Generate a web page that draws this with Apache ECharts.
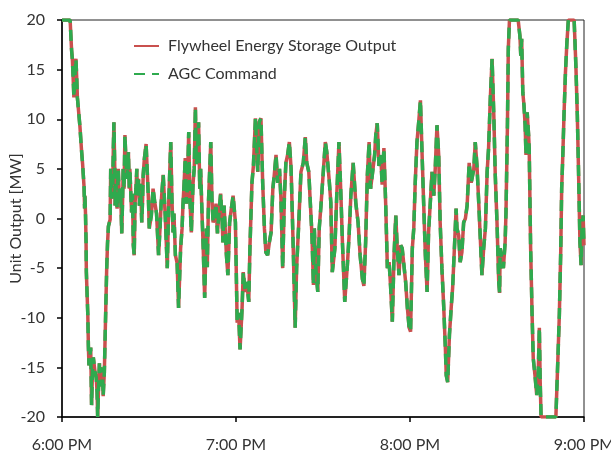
<!DOCTYPE html>
<html><head><meta charset="utf-8">
<script src="https://cdn.jsdelivr.net/npm/echarts@6/dist/echarts.min.js"></script>
<style>html,body{margin:0;padding:0;background:#fff}#c{width:611px;height:457px}</style>
</head><body><div id="c"></div>
<script>
// minutes after 6:00 PM
const timeMinutes = [
0,1.4,2.8,3.3,3.6,4.0,4.1,4.5,4.8,5.1,5.3,5.7,6.2,6.7,7.1,7.3,7.6,7.8,7.9,8.1,8.3,8.4,8.7,8.9,9.1,9.3,9.7,9.9,10.2,10.5,10.8,11.1,11.4,11.8,12.1,12.3,12.6,12.9,13.1,13.4,13.7,14.0,14.2,14.6,14.8,15.1,15.4,15.7,16.0,16.6,
16.8,17.1,17.5,17.7,17.9,18.2,18.3,18.6,19.0,19.4,19.8,20.2,20.6,20.9,21.1,21.4,21.7,22.1,22.4,22.9,23.2,23.4,23.8,24.0,24.3,24.6,24.9,25.2,25.5,25.8,26.0,26.4,26.7,27.1,27.5,27.8,28.0,28.4,29.0,29.4,29.8,30.1,
30.8,31.4,32.0,32.6,33.3,33.8,34.2,34.9,35.6,36.3,36.8,37.5,37.9,38.3,38.6,39.1,39.7,40.2,40.9,41.4,41.7,42.1,42.5,42.9,43.2,43.7,44.1,44.6,45.2,45.6,46.0,46.3,46.7,47.1,47.5,47.8,48.3,48.7,49.2,49.8,50.1,50.5,51.3,51.7,52.1,52.7,53.1,53.6,54.1,54.7,55.2,55.5,55.9,56.7,57.2,57.8,58.4,59.0,59.8,
60.4,60.9,61.4,62.1,62.5,63.2,63.7,64.4,64.8,65.5,66.0,66.7,67.5,68.0,68.6,69.2,69.8,70.3,70.9,71.5,72.1,72.7,73.2,73.8,74.4,75.0,75.5,76.1,76.7,77.2,77.8,78.4,79.0,79.8,80.4,80.9,81.6,82.4,83.2,83.9,84.4,85.1,85.5,86.2,86.7,87.0,87.6,88.2,88.7,89.3,
90.1,90.8,91.3,92.1,92.7,93.2,94.1,94.7,95.5,96.1,96.7,97.5,98.4,99.0,99.6,100.4,101.3,102.1,102.8,103.6,104.1,104.7,105.3,105.9,106.4,107.0,107.8,108.2,108.7,109.3,109.9,110.4,111.0,111.6,112.2,112.8,113.3,113.9,114.5,115.1,115.6,116.2,116.8,117.3,117.9,118.5,119.1,119.7,
120.2,120.8,121.3,121.8,122.4,123.0,123.6,124.1,124.7,125.3,125.9,126.4,127.0,127.6,128.2,128.7,129.3,129.9,130.4,131.0,131.6,132.2,132.5,133.0,133.6,134.2,134.7,135.4,135.9,136.2,136.8,137.3,137.9,138.5,139.1,139.7,140.4,141.1,142.0,142.5,143.1,143.7,144.2,144.8,145.4,146.0,146.6,147.1,147.7,148.3,148.9,149.4,
150.0,150.6,150.9,151.1,151.6,152.2,152.8,153.1,153.6,153.9,154.3,157.3,157.9,158.2,158.5,158.9,159.3,159.7,160.0,160.4,160.9,161.1,161.6,162.1,162.5,163.1,163.7,164.2,164.6,164.9,165.2,170.3,170.8,171.5,172.0,172.3,172.7,173.1,173.6,174.1,174.6,176.6,177.2,177.7,178.2,178.6,179.0,179.3,179.7,180.0
];
const flywheelOutputMW = [
20,20,20,17,15.9,13,12.2,14.5,16.1,14,12.2,12,9.2,7,5.5,4.6,3.2,1.0,2.3,0.5,-2.4,-5.4,-8,-9.7,-12.9,-14.8,-14.9,-13.0,-18.8,-15.5,-14.0,-13.8,-15.5,-16.0,-17.5,-20,-17.0,-14.6,-15.5,-15.0,-16.9,-16.0,-17.9,-15.5,-12.9,-9,-5.2,-2.5,-0.8,-0.1,
5.0,2.0,3.4,7.0,9.7,5,1.3,3.5,1.0,5.0,1.6,3.0,-1.5,2.0,5.0,3.0,8.4,5.5,4.0,6.7,3.0,5.0,2.0,0.6,2.5,-2.7,-3.7,1.6,3.0,5.0,2.5,4.0,1.3,3.5,-0.4,2.0,4.4,6.0,7.5,4.7,2.0,-1.0,
0.3,3.0,1.6,0.5,-3.7,-1.0,1.6,4.4,0.3,-5.0,1.6,7.7,2.0,-1.4,0.5,-3.7,-4.5,-9.0,-3.0,-1.0,1.3,3.5,6.1,1.5,3.0,8.7,2.0,-1.4,3.6,5.0,11.2,5.5,6.4,9.7,3.0,5.0,0.3,-3.0,-8.0,-1.0,-4.9,1.6,7.7,2.0,-0.4,0.3,1.5,-1.5,0.5,2.5,0.0,-2.4,1.3,-3.7,-5.7,-0.4,1.0,2.3,-0.4,
-10.5,-9.5,-13.2,-9.0,-5.4,-7.4,-6.4,-8.4,-3.0,3.6,5.3,10.1,4.7,9.7,10.1,3.6,-1.0,-3.4,-3.7,-2.4,-1.4,3.0,4.4,6.4,3.6,5.0,2.0,-5.0,2.3,5.6,6.4,7.7,5.0,-3.7,-11.0,-5.0,-0.7,4.7,5.6,8.2,5.6,4.7,2.3,-1.7,-6.7,-1.0,-5.4,-7.4,-1.0,1.3,
4.7,7.7,6.7,4.0,1.6,-5.4,-3.0,2.0,7.7,3.0,-2.4,-8.4,-4.7,-1.7,2.3,5.6,1.6,-0.4,-3.7,-6.1,-6.8,-2.4,4.4,7.7,3.0,4.4,6.4,8.4,9.6,5.3,6.4,3.4,7.1,1.6,-5.0,-4.4,-6.8,-10.4,-3.7,0.3,-3.0,-5.7,-2.7,-3.0,-3.0,-6.4,-9.0,-11.0,
-11.4,-3.0,-1.0,3.6,7.7,9.7,11.9,7.1,1.6,-3.7,-7.4,-1.4,1.6,4.7,2.3,5.0,9.4,6.4,-0.4,-5.0,-8.7,-13.1,-15.8,-16.5,-11.7,-9.0,-7.0,-2.4,1.0,-1.0,-1.7,-4.4,-3.4,-0.4,0.0,1.3,5.6,3.6,5.0,7.7,5.3,1.6,-1.7,-5.7,-3.0,-1.0,4.7,7.1,12.1,16.1,10.4,4.4,
-0.4,-6.4,-7.5,-3.0,-3.0,-5.0,-2.4,0.6,9.4,17.1,20,20,18.4,16.4,18.1,12.7,11.4,9.4,6.4,10.7,8.4,7.1,-3.0,-9.7,-14.1,-15.8,-17.8,-15.8,-11.0,-16.5,-20,-20,-15.8,-9.7,-3.0,3.0,6.4,10.4,14.7,17.7,20,20,15.4,10.4,3.6,-2.4,-4.7,-1.0,0.3,-2.7
];
// The AGC command trace coincides with the flywheel output in the picture
const agcCommandMW = flywheelOutputMW.slice();
const xTickLabels = ['6:00 PM', '7:00 PM', '8:00 PM', '9:00 PM'];
const seriesNames = ['Flywheel Energy Storage Output', 'AGC Command'];

const pair = arr => timeMinutes.map((t, i) => [t, arr[i]]);
const font = 'Lato, "Open Sans", sans-serif';
const chart = echarts.init(document.getElementById('c'), null, {renderer: 'canvas'});
chart.setOption({
  animation: false,
  textStyle: {fontFamily: font},
  grid: {left: 62, right: 27, top: 20, bottom: 40, containLabel: false, outerBoundsMode: 'none',
         show: true, borderColor: '#222', borderWidth: 1},
  legend: {
    orient: 'vertical', left: 133, top: 38, padding: 0,
    itemWidth: 25, itemHeight: 16, itemGap: 12,
    itemStyle: {opacity: 0},
    textStyle: {fontSize: 16, color: '#333', fontFamily: font, padding: [0, 0, 0, 4]},
    data: seriesNames
  },
  xAxis: {
    type: 'value', min: 0, max: 180, interval: 60,
    axisLine: {onZero: false, lineStyle: {color: '#000', width: 1.5}},
    axisTick: {show: true, length: 5, lineStyle: {color: '#000', width: 1.5}},
    splitLine: {show: false},
    axisLabel: {fontSize: 16, color: '#333', margin: 20, fontFamily: font,
      formatter: v => xTickLabels[Math.round(v / 60)]}
  },
  yAxis: {
    type: 'value', min: -20, max: 20, interval: 5,
    name: 'Unit Output [MW]', nameLocation: 'middle', nameGap: 38, nameRotate: 90,
    nameMoveOverlap: false,
    nameTextStyle: {fontSize: 16, color: '#333', fontFamily: font},
    axisLine: {show: true, lineStyle: {color: '#000', width: 1.5}},
    axisTick: {show: true, length: 5, lineStyle: {color: '#000', width: 1.5}},
    splitLine: {show: false},
    axisLabel: {fontSize: 16, color: '#333', margin: 17, fontFamily: font}
  },
  series: [
    {name: seriesNames[0], type: 'line', data: pair(flywheelOutputMW), symbol: 'none',
     lineStyle: {color: '#c9504e', width: 3.5}, itemStyle: {color: '#c9504e'}},
    {name: seriesNames[1], type: 'line', data: pair(agcCommandMW), symbol: 'none',
     lineStyle: {color: '#2eaa4e', width: 3.5, type: [11, 7]}, itemStyle: {color: '#2eaa4e'}}
  ]
});
</script>
</body></html>
